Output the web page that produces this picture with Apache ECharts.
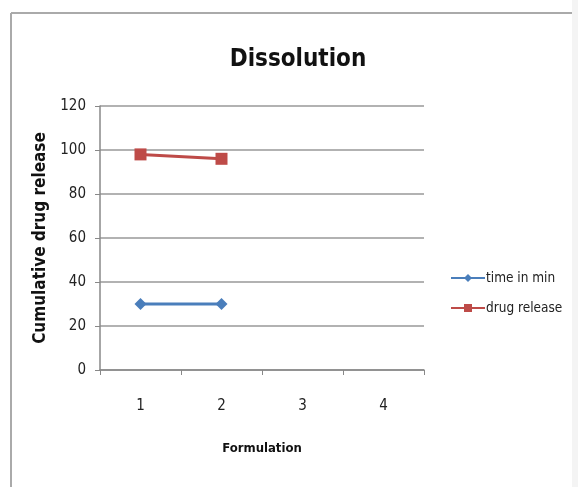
<!DOCTYPE html>
<html>
<head>
<meta charset="utf-8">
<script src="https://cdn.jsdelivr.net/npm/echarts@6/dist/echarts.min.js"></script>
<style>
html,body{margin:0;padding:0;background:#fff;}
#main{width:578px;height:487px;}
</style>
</head>
<body>
<div id="main"></div>
<script>
const categories = ['1', '2', '3', '4'];
const timeInMin = [30, 30, null, null];
const drugRelease = [98, 96, null, null];
const seriesNames = ['time in min', 'drug release'];

const FONT = '"DejaVu Sans Condensed", "Liberation Sans Narrow", "Open Sans", sans-serif';
const chart = echarts.init(document.getElementById('main'), null, {renderer: 'canvas'});
chart.setOption({
  backgroundColor: '#ffffff',
  animation: false,
  title: {
    text: 'Dissolution',
    left: 293, top: 43, textAlign: 'center',
    textStyle: {fontFamily: FONT, fontSize: 24, fontWeight: 'bold', color: '#111'}
  },
  graphic: [
    {type: 'line', shape: {x1: 11, y1: 13, x2: 572, y2: 13}, style: {stroke: '#aaa', lineWidth: 2}},
    {type: 'line', shape: {x1: 11, y1: 13, x2: 11, y2: 487}, style: {stroke: '#aaa', lineWidth: 2}},
    {type: 'rect', shape: {x: 572, y: 0, width: 6, height: 487}, style: {fill: '#f4f4f4'}}
  ],
  legend: {
    orient: 'vertical',
    left: 445, top: 266,
    itemWidth: 34, itemHeight: 10, itemGap: 16,
    textStyle: {fontFamily: FONT, fontSize: 13.5, color: '#222', padding: [0, 0, 0, -4]},
    data: seriesNames
  },
  grid: {left: 100, right: 154, top: 106, bottom: 117},
  xAxis: {
    type: 'category',
    data: categories,
    name: 'Formulation',
    nameLocation: 'middle',
    nameGap: 72,
    nameTextStyle: {fontFamily: FONT, fontSize: 13, fontWeight: 'bold', color: '#111'},
    axisLine: {lineStyle: {color: '#888', width: 1.5}},
    axisTick: {show: true, length: 5, lineStyle: {color: '#888'}},
    axisLabel: {fontFamily: FONT, fontSize: 15, color: '#222', margin: 29},
    splitLine: {show: false}
  },
  yAxis: {
    type: 'value',
    min: 0, max: 120, interval: 20,
    name: 'Cumulative drug release',
    nameLocation: 'middle',
    nameGap: 47,
    nameRotate: 90,
    nameTextStyle: {fontFamily: FONT, fontSize: 17, fontWeight: 'bold', color: '#111'},
    axisLine: {show: true, lineStyle: {color: '#888', width: 1.5}},
    axisTick: {show: true, length: 5, lineStyle: {color: '#888'}},
    axisLabel: {fontFamily: FONT, fontSize: 15, color: '#222', margin: 14},
    splitLine: {lineStyle: {color: '#999', width: 1.5}}
  },
  series: [
    {
      name: seriesNames[0], type: 'line', data: timeInMin,
      symbol: 'diamond', symbolSize: 12,
      itemStyle: {color: '#4A7EBB'},
      lineStyle: {color: '#4A7EBB', width: 3}
    },
    {
      name: seriesNames[1], type: 'line', data: drugRelease,
      symbol: 'rect', symbolSize: 12,
      itemStyle: {color: '#BE4B48'},
      lineStyle: {color: '#BE4B48', width: 3}
    }
  ]
});
</script>
</body>
</html>
